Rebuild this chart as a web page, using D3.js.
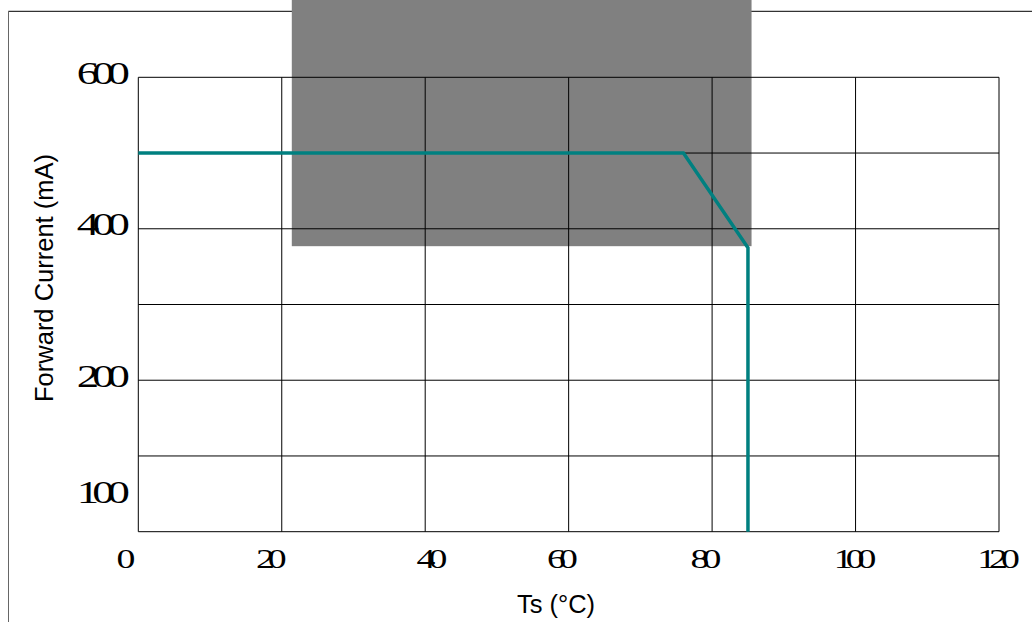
<!DOCTYPE html>
<html>
<head>
<meta charset="utf-8">
<script src="https://cdn.jsdelivr.net/npm/d3@7"></script>
<style>
  html, body { margin: 0; padding: 0; background: #fff; overflow: hidden; }
  svg { display: block; }
</style>
</head>
<body>
<svg id="chart" width="1032" height="622"></svg>
<script>
// ---- data ----
const xGridValues = [0, 20, 40, 60, 80, 100, 120];
const yGridValues = [0, 100, 200, 300, 400, 500, 600];
const xTickLabels = ["0", "20", "40", "60", "80", "100", "120"];
const xLabelAt    = [-1.85, 18.4, 40.8, 59.0, 79.0, 99.8, 119.8];
const yTickLabels = ["600", "400", "200", "100"];
const yLabelAt    = [600, 400, 200, 47];
const curveTs      = [0, 76, 85, 85];
const curveCurrent = [500, 500, 375, 0];
const zoneTs      = [21.4, 85.5];
const zoneCurrent = [377, 720];
const xTitle = "Ts (°C)";
const yTitle = "Forward Current (mA)";

// ---- layout ----
const svg = d3.select("#chart");
const x = d3.scaleLinear().domain([0, 120]).range([138.3, 999]);
const y = d3.scaleLinear().domain([0, 600]).range([531.7, 77.3]);

// outer frame
svg.append("line").attr("x1", 8.3).attr("x2", 1040).attr("y1", 11.3).attr("y2", 11.3)
  .attr("stroke", "#000").attr("stroke-width", 1);
svg.append("line").attr("x1", 8.5).attr("x2", 8.5).attr("y1", 11.3).attr("y2", 640)
  .attr("stroke", "#666").attr("stroke-width", 1);

// shaded zone
svg.append("rect")
  .attr("x", x(zoneTs[0])).attr("width", x(zoneTs[1]) - x(zoneTs[0]))
  .attr("y", y(zoneCurrent[1])).attr("height", y(zoneCurrent[0]) - y(zoneCurrent[1]))
  .attr("fill", "#808080");

// grid
const g = svg.append("g");
g.selectAll("line.v").data(xGridValues).join("line")
  .attr("x1", d => x(d)).attr("x2", d => x(d))
  .attr("y1", y(600)).attr("y2", y(0))
  .attr("stroke", "#000").attr("stroke-width", 1);
g.selectAll("line.h").data(yGridValues).join("line")
  .attr("y1", d => y(d)).attr("y2", d => y(d))
  .attr("x1", x(0)).attr("x2", x(120))
  .attr("stroke", "#000").attr("stroke-width", 1);

// curve
const line = d3.line().x(d => x(d[0])).y(d => y(d[1]));
svg.append("path")
  .datum(curveTs.map((t, i) => [t, curveCurrent[i]]))
  .attr("d", line)
  .attr("fill", "none")
  .attr("stroke", "#008080")
  .attr("stroke-width", 3.5)
  .attr("stroke-linejoin", "miter");

const serif = "'Liberation Serif', 'Times New Roman', serif";

// y tick labels
svg.selectAll("text.yl").data(yTickLabels).join("text")
  .attr("transform", (d, i) => `translate(123,${y(yLabelAt[i]) + 6.5}) scale(1.4,1)`)
  .attr("text-anchor", "end")
  .attr("font-family", serif)
  .attr("font-size", 32)
  .attr("letter-spacing", -5)
  .attr("fill", "#000")
  .text(d => d);

// x tick labels
svg.selectAll("text.xl").data(xTickLabels).join("text")
  .attr("transform", (d, i) => `translate(${x(xLabelAt[i]) - 2.5},568) scale(1.4,1)`)
  .attr("text-anchor", "middle")
  .attr("font-family", serif)
  .attr("font-size", 27)
  .attr("letter-spacing", -5)
  .attr("fill", "#000")
  .text(d => d);

// axis titles
svg.append("text")
  .attr("x", 556).attr("y", 613)
  .attr("text-anchor", "middle")
  .attr("font-family", "'Liberation Sans', Arial, sans-serif")
  .attr("font-size", 25.5)
  .attr("fill", "#000")
  .text(xTitle);
svg.append("text")
  .attr("transform", "translate(53,278) rotate(-90)")
  .attr("text-anchor", "middle")
  .attr("font-family", "'Liberation Sans', Arial, sans-serif")
  .attr("font-size", 25.5)
  .attr("fill", "#000")
  .text(yTitle);
</script>
</body>
</html>
